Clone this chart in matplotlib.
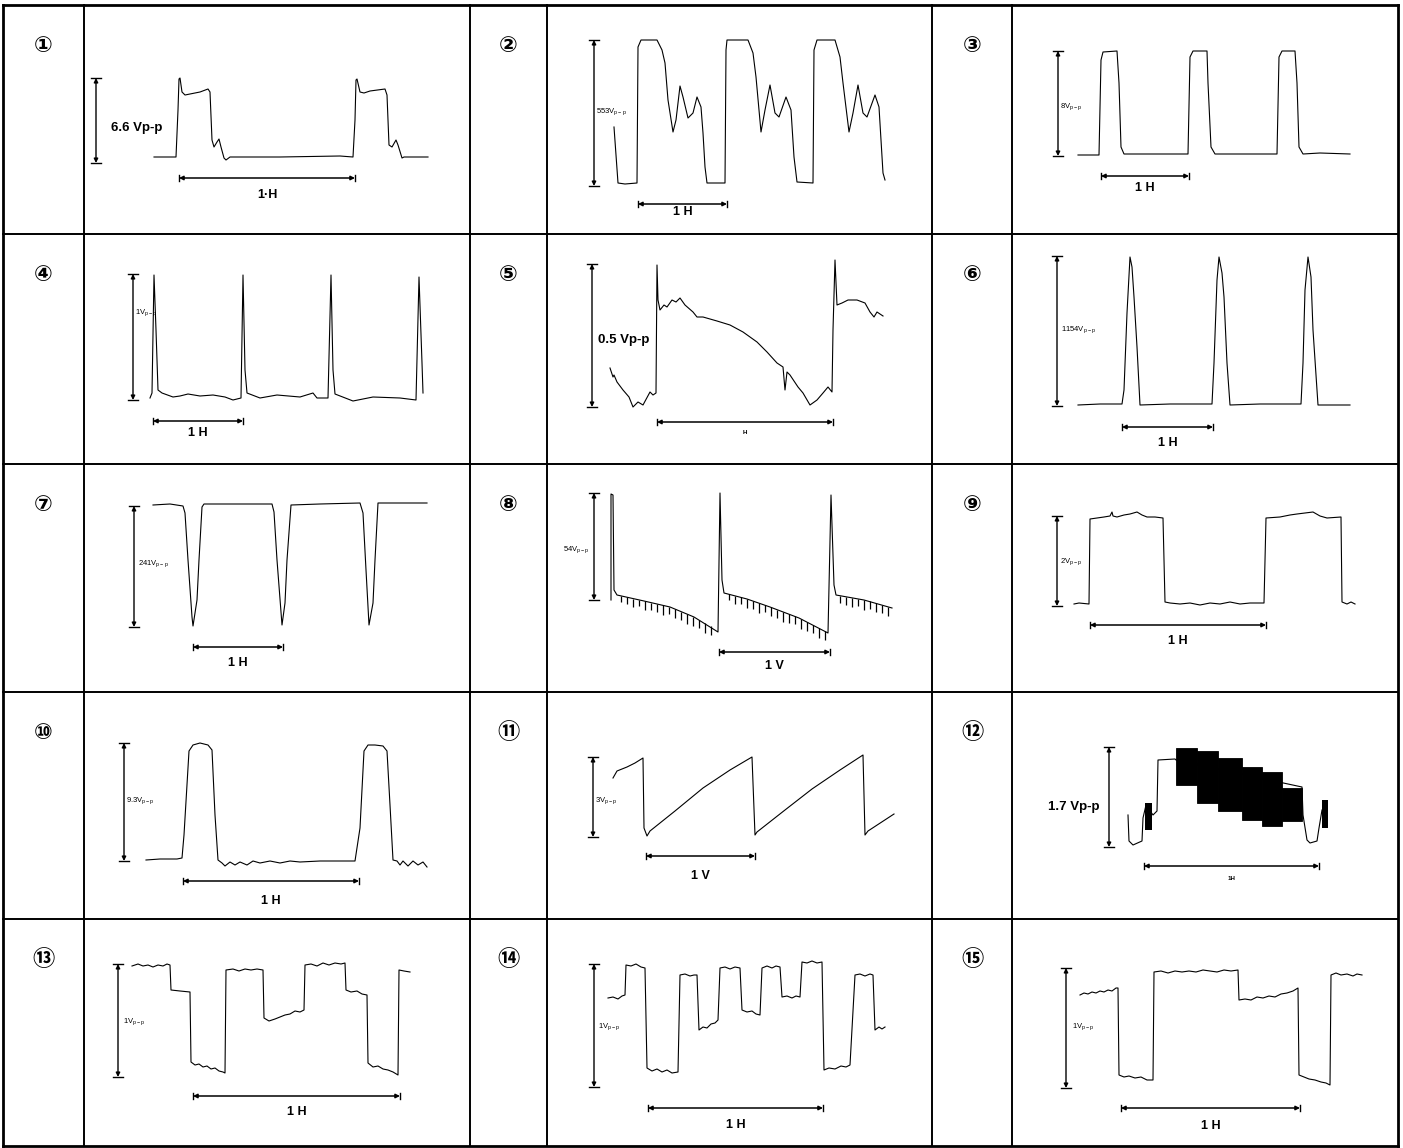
import numpy as np
import matplotlib.pyplot as plt

plt.rcParams['font.family'] = ['Liberation Sans', 'DejaVu Sans']
plt.rcParams['mathtext.fontset'] = 'custom'
plt.rcParams['mathtext.rm'] = 'Liberation Sans'

# scope traces: t = time from start of the 1H marker, v = level above bottom of the Vp-p marker
p1_t = [-25, -3, -1, 0, 1, 3, 6, 11, 21, 29, 31, 33, 35, 38, 40, 42, 45, 47, 51, 101, 161, 174,
        176, 177, 178, 181, 185, 191, 206, 208, 210, 213, 217, 219, 223, 225, 249]
p1_v = [6, 6, 53, 84, 85, 71, 68, 69, 71, 74, 71, 23, 16, 21, 24, 16, 5, 3, 6, 6, 7, 6,
        43, 83, 84, 71, 70, 72, 74, 68, 18, 16, 23, 18, 5, 6, 6]

p2_t = [-24, -20, -13, -1, 0, 3, 19, 24, 27, 30, 35, 38, 42, 45, 50, 55, 59, 63, 65, 67, 69, 87,
        88, 89, 110, 115, 118, 123, 127, 132, 137, 141, 148, 153, 156, 159, 175,
        176, 179, 197, 202, 205, 211, 215, 220, 225, 229, 237, 241, 245, 247]
p2_v = [59, 3, 2, 3, 139, 146, 146, 136, 123, 86, 54, 66, 100, 89, 68, 73, 89, 79, 53, 19, 3, 3,
        136, 146, 146, 133, 109, 54, 76, 101, 73, 69, 89, 76, 29, 4, 3,
        136, 146, 146, 129, 103, 54, 73, 101, 73, 69, 91, 79, 13, 6]

p3_t = [-23, -2, 0, 2, 16, 18, 20, 23, 59, 87, 89, 92, 106, 107, 110, 114, 176, 178, 181, 194,
        196, 198, 202, 219, 249]
p3_v = [1, 1, 96, 104, 105, 73, 9, 2, 2, 2, 99, 105, 105, 73, 9, 2, 2, 99, 105, 105,
        73, 9, 2, 3, 2]

p4_t = [-3, -1, 1, 3, 5, 9, 20, 27, 35, 47, 60, 72, 80, 88, 90, 92, 94, 107, 124, 147, 160, 164,
        175, 178, 180, 182, 200, 220, 247, 263, 266, 269, 270]
p4_v = [2, 7, 125, 70, 10, 7, 3, 4, 6, 4, 5, 3, 0, 2, 125, 30, 7, 2, 5, 3, 7, 2,
        2, 125, 30, 6, -1, 3, 2, 0, 123, 37, 7]

p5_t = [-47, -44, -43, -40, -34, -28, -24, -19, -14, -7, -4, -1, 0, 1, 3, 7, 10, 15, 19, 23, 28,
        36, 40, 46, 60, 73, 86, 100, 110, 120, 126, 128, 130, 133, 141, 146, 153, 160, 166,
        171, 175, 176, 178, 180, 185, 191, 200, 208, 213, 217, 220, 226]
p5_v = [39, 30, 32, 25, 17, 10, 0, 5, 2, 15, 12, 14, 142, 107, 97, 102, 100, 107, 105, 109, 102,
        95, 90, 90, 86, 82, 75, 65, 55, 44, 40, 17, 35, 32, 20, 14, 2, 7, 14,
        20, 15, 77, 147, 102, 104, 107, 107, 104, 95, 90, 95, 91]

p6_t = [-44, -22, 0, 2, 5, 8, 10, 12, 15, 18, 48, 90, 92, 95, 97, 100, 102, 105, 108, 138,
        179, 181, 183, 186, 189, 191, 196, 228]
p6_v = [1, 2, 2, 16, 93, 149, 139, 109, 59, 1, 2, 2, 43, 126, 149, 133, 109, 43, 1, 2,
        2, 43, 116, 149, 129, 76, 1, 1]

p7_t = [-40, -23, -10, -8, -5, -1, 0, 4, 6, 9, 11, 47, 79, 81, 84, 89, 92, 94, 98, 127, 167,
        170, 173, 176, 180, 182, 185, 234]
p7_v = [122, 123, 121, 114, 67, 10, 1, 27, 67, 120, 123, 123, 123, 115, 67, 2, 24, 67, 122, 123, 124,
        114, 57, 2, 24, 67, 124, 124]

p8_t = [-108, -108, -106, -105, -102, -75, -49, -25, -1, 1, 3, 5, 28, 51, 80, 109,
        112, 115, 117, 145, 173]
p8_v = [0, 106, 105, 10, 5, -1, -7, -17, -32, 107, 20, 7, 1, -7, -18, -33,
        105, 15, 5, 0, -8]
# downward noise teeth riding on the ramps
p8_teeth_t = [-98, -92, -86, -80, -74, -68, -62, -56, -50, -44, -38, -32, -26, -20, -14, -8,
              10, 16, 22, 28, 34, 40, 46, 52, 58, 64, 70, 76, 82, 88, 94, 100, 106,
              121, 127, 133, 139, 145, 151, 157, 163, 169]
p8_teeth_top = [4, 3, 1, 0, -1, -3, -4, -5, -7, -9, -12, -14, -17, -20, -23, -26,
                6, 4, 3, 1, -1, -3, -5, -7, -10, -12, -14, -16, -19, -22, -25, -28, -31,
                4, 3, 2, 1, 0, -1, -3, -5, -7]
p8_teeth_len = [6, 7, 8, 6, 9, 7, 8, 10, 7, 9, 8, 10, 9, 8, 10, 9,
                6, 8, 7, 9, 8, 10, 7, 9, 8, 10, 9, 8, 10, 9, 8, 10, 9,
                7, 8, 9, 7, 10, 8, 9, 8, 9]

p9_t = [-16, -11, -1, 0, 7, 14, 20, 22, 23, 27, 34, 40, 47, 52, 57, 65, 73, 75, 80, 90, 100,
        110, 120, 130, 140, 150, 160, 174, 176, 190, 200, 207, 215, 223, 230, 237, 251,
        252, 257, 261, 265]
p9_v = [2, 3, 2, 87, 88, 89, 90, 94, 90, 89, 91, 92, 94, 91, 89, 89, 88, 4, 3, 2, 3,
        1, 3, 2, 4, 2, 3, 3, 88, 89, 91, 92, 93, 94, 90, 88, 89,
        4, 2, 4, 2]

p10_t = [-37, -23, -6, -1, 1, 6, 10, 17, 25, 29, 32, 35, 39, 42, 47, 52, 57, 64, 70, 77, 87, 97,
         107, 117, 137, 157, 172, 177, 181, 185, 192, 200, 204, 207, 210, 214, 217, 220, 225,
         230, 235, 240, 244]
p10_v = [1, 2, 2, 3, 26, 110, 116, 118, 116, 111, 46, 1, -2, -5, -1, -4, -1, -4, 0, -2, 0, -2,
         0, -1, 0, 0, 0, 33, 110, 116, 116, 115, 110, 56, 1, 0, -4, 0, -5,
         0, -4, -1, -6]

p11_t = [-33, -29, -19, -11, -3, -2, 1, 4, 29, 57, 84, 106, 109, 111, 139, 166, 194, 217,
         219, 222, 248]
p11_v = [59, 66, 70, 74, 79, 9, 1, 6, 26, 49, 67, 80, 2, 5, 27, 48, 67, 82,
         2, 6, 23]

p12_t = [-16, -15, -11, -2, -1, 2, 9, 13, 14, 31, 32, 158, 159, 163, 166, 173, 175, 178]
p12_v = [32, 6, 2, 6, 29, 42, 32, 36, 87, 88, 87, 60, 32, 7, 4, 6, 19, 37]
# densely modulated band (drawn solid), step edges and envelope
p12_band_edges = [32, 53, 74, 98, 118, 138, 158]
p12_band_top = [99, 96, 89, 80, 75, 59]
p12_band_bottom = [62, 44, 36, 27, 21, 26]
p12_blob_t = [1, 178]
p12_blob_w = [7, 6]
p12_blob_top = [44, 47]
p12_blob_bottom = [17, 19]

p13_t = [-61, -55, -50, -45, -40, -35, -30, -26, -23, -22, -13, -3, -2, 2, 6, 10, 14, 18, 22, 26,
         30, 32, 33, 40, 46, 52, 58, 64, 70, 71, 76, 82, 87, 92, 97, 102, 107, 111, 112, 118,
         124, 130, 136, 142, 148, 152, 153, 158, 164, 169, 174, 175, 180, 185, 190, 195, 200,
         205, 206, 211, 217]
p13_v = [111, 113, 111, 112, 110, 112, 111, 113, 112, 87, 86, 85, 15, 12, 13, 10, 11, 8, 9, 6,
         5, 4, 107, 108, 106, 108, 107, 108, 107, 59, 56, 58, 60, 62, 63, 66, 65, 67, 112, 113,
         111, 114, 112, 114, 113, 114, 87, 85, 86, 83, 82, 14, 10, 11, 8, 7, 5,
         2, 107, 106, 105]

p14_t = [-40, -35, -30, -26, -23, -22, -17, -12, -7, -3, -1, 4, 9, 14, 19, 24, 30, 32, 37, 42,
         46, 49, 51, 55, 59, 63, 67, 70, 72, 77, 82, 87, 92, 94, 99, 104, 108, 112, 114, 119,
         124, 128, 132, 134, 139, 144, 148, 152, 154, 159, 164, 169, 174, 176, 181, 187, 193,
         198, 202, 207, 212, 217, 222, 225, 227, 231, 234, 237]
p14_v = [89, 90, 88, 91, 92, 122, 121, 123, 120, 119, 19, 16, 18, 15, 17, 14, 15, 112, 113, 111,
         112, 112, 57, 60, 59, 63, 64, 67, 119, 120, 118, 120, 119, 77, 75, 76, 73, 72, 119, 121,
         119, 121, 120, 90, 91, 89, 91, 90, 125, 124, 126, 124, 125, 17, 19, 18, 21,
         20, 22, 112, 113, 111, 113, 112, 57, 60, 58, 60]

p15_t = [-41, -37, -33, -29, -25, -21, -17, -13, -9, -5, -3, -2, 3, 8, 14, 20, 26, 32, 33, 40,
         47, 54, 61, 68, 75, 82, 89, 96, 103, 110, 117, 118, 124, 130, 136, 142, 148, 154,
         160, 166, 172, 177, 178, 183, 188, 194, 200, 205, 209, 210, 215, 220, 226, 232, 236,
         241]
p15_v = [93, 95, 94, 96, 95, 97, 96, 98, 97, 100, 100, 13, 11, 12, 10, 11, 8, 8, 116, 117,
         115, 117, 116, 117, 116, 118, 117, 116, 118, 117, 118, 88, 89, 88, 91, 90, 92, 91,
         94, 95, 97, 100, 13, 11, 9, 8, 6, 5, 3, 113, 115, 113, 114, 112, 114,
         113]

traces_t = [p1_t, p2_t, p3_t, p4_t, p5_t, p6_t, p7_t, p8_t, p9_t, p10_t, p11_t, p12_t, p13_t, p14_t, p15_t]
traces_v = [p1_v, p2_v, p3_v, p4_v, p5_v, p6_v, p7_v, p8_v, p9_v, p10_v, p11_v, p12_v, p13_v, p14_v, p15_v]

# marker lengths (period marker and peak-to-peak marker) in trace units
periods = [176, 89, 88, 90, 176, 91, 90, 111, 176, 176, 109, 175, 207, 175, 179]
vpps = [85, 146, 105, 126, 143, 150, 121, 107, 90, 118, 80, 100, 113, 123, 120]

vpp_values = ['6.6', '553', '8', '1', '0.5', '1154', '241', '54', '2', '9.3', '3', '1.7', '1', '1', '1']
big_label = [True, False, False, False, True, False, False, False, False, False, False, True,
             False, False, False]
period_labels = ['1·H', '1 H', '1 H', '1 H', 'H', '1 H', '1 H', '1 V', '1 H', '1 H', '1 V', '1H',
                 '1 H', '1 H', '1 H']
numbers = '①②③④⑤⑥⑦⑧⑨⑩⑪⑫⑬⑭⑮'

# ---- layout (pixels) ----
W, Hh = 1403, 1148
col_lines = [3, 84, 470, 547, 932, 1012, 1398]
row_lines = [5, 234, 464, 692, 919, 1146]

# per panel: x of 1H marker start, y of Vp-p marker bottom, arrow offset, label pos, hbar offset, hlabel offset
origin_x = [179, 638, 1101, 153, 657, 1122, 193, 719, 1090, 183, 646, 1144, 193, 648, 1121]
origin_y = [163, 186, 156, 400, 407, 406, 627, 600, 606, 861, 837, 847, 1077, 1087, 1088]
arrow_t = [-83, -44, -43, -20, -65, -65, -59, -125, -33, -59, -53, -35, -75, -54, -55]
vlab_pos = [(-68, 35, 'left'), (-42, 74, 'left'), (-41, 49, 'left'), (-18, 87, 'left'),
            (-59, 67, 'left'), (-61, 76, 'left'), (-55, 63, 'left'), (-129, 50, 'right'),
            (-30, 44, 'left'), (-57, 60, 'left'), (-51, 36, 'left'), (-45, 40, 'right'),
            (-70, 55, 'left'), (-50, 60, 'left'), (-49, 61, 'left')]
hbar_v = [-15, -18, -20, -21, -15, -21, -20, -52, -19, -20, -19, -19, -19, -21, -20]
hlab_v = [-32, -26, -32, -33, -25, -37, -36, -66, -35, -40, -39, -32, -35, -38, -38]

fig = plt.figure(figsize=(W / 100, Hh / 100), dpi=100)
fig.patch.set_facecolor('white')

# background axes for the table rules and the circled numbers
bg = fig.add_axes([0, 0, 1, 1])
bg.set_xlim(0, W)
bg.set_ylim(Hh, 0)
bg.axis('off')
for x in col_lines:
    lw = 2.0 if x in (col_lines[0], col_lines[-1]) else 1.4
    bg.plot([x, x], [row_lines[0], row_lines[-1]], color='k', lw=lw)
for y in row_lines:
    lw = 2.0 if y in (row_lines[0], row_lines[-1]) else 1.4
    bg.plot([col_lines[0], col_lines[-1]], [y, y], color='k', lw=lw)


def vmarker(ax, t, v0, v1):
    ax.annotate('', xy=(t, v1), xytext=(t, v0),
                arrowprops=dict(arrowstyle='<|-|>', color='k', lw=1.0, mutation_scale=6,
                                shrinkA=0, shrinkB=0))
    ax.plot([t - 5, t + 5], [v0, v0], color='k', lw=1.0)
    ax.plot([t - 5, t + 5], [v1, v1], color='k', lw=1.0)


def hmarker(ax, v, t0, t1):
    ax.annotate('', xy=(t1, v), xytext=(t0, v),
                arrowprops=dict(arrowstyle='<|-|>', color='k', lw=1.1, mutation_scale=6,
                                shrinkA=0, shrinkB=0))
    ax.plot([t0, t0], [v - 3, v + 3], color='k', lw=1.0)
    ax.plot([t1, t1], [v - 3, v + 3], color='k', lw=1.0)


for i in range(15):
    r, c = i // 3, i % 3
    cx0, cx1 = col_lines[2 * c + 1], col_lines[2 * c + 2]
    cy0, cy1 = row_lines[r], row_lines[r + 1]
    nx = (col_lines[2 * c] + col_lines[2 * c + 1]) / 2
    bg.text(nx, cy0 + 41, numbers[i], fontsize=16, fontweight='bold', ha='center', va='center',
            family=['DejaVu Sans', 'Noto Sans CJK JP'])

    ax = fig.add_axes([cx0 / W, 1 - cy1 / Hh, (cx1 - cx0) / W, (cy1 - cy0) / Hh])
    ax.set_xlim(cx0 - origin_x[i], cx1 - origin_x[i])
    ax.set_ylim(origin_y[i] - cy1, origin_y[i] - cy0)
    ax.axis('off')
    ax.patch.set_alpha(0)

    ax.plot(traces_t[i], traces_v[i], color='k', lw=0.8)

    if i == 7:
        ax.vlines(p8_teeth_t, np.array(p8_teeth_top) - np.array(p8_teeth_len), p8_teeth_top,
                  color='k', lw=0.9)
    if i == 11:
        ax.bar(p12_band_edges[:-1], np.array(p12_band_top) - np.array(p12_band_bottom),
               bottom=p12_band_bottom, width=np.diff(p12_band_edges), align='edge',
               color='k', edgecolor='k', lw=0.6)
        ax.bar(p12_blob_t, np.array(p12_blob_top) - np.array(p12_blob_bottom),
               bottom=p12_blob_bottom, width=p12_blob_w, align='edge', color='k')

    vmarker(ax, arrow_t[i], 0, vpps[i])
    hmarker(ax, hbar_v[i], 0, periods[i])

    lt, lv, ha = vlab_pos[i]
    if big_label[i]:
        ax.text(lt, lv, vpp_values[i] + ' Vp-p', fontsize=9.5, fontweight='bold', ha=ha, va='center')
    else:
        ax.text(lt, lv, vpp_values[i] + r'V$_{\rm p-p}$', fontsize=5.5, ha=ha, va='center')

    if period_labels[i] in ('H', '1H'):
        ax.text(periods[i] / 2, hlab_v[i], period_labels[i], fontsize=4.5, fontweight='bold',
                ha='center', va='center')
    else:
        ax.text(periods[i] / 2, hlab_v[i], period_labels[i], fontsize=9, fontweight='bold',
                ha='center', va='center')

fig.savefig('out.png', dpi=100, facecolor='white')
